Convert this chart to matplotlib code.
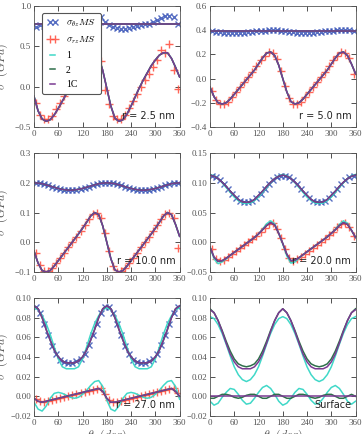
import matplotlib
matplotlib.use("Agg")
import matplotlib.pyplot as plt

plt.rcParams["font.family"] = ["Liberation Serif", "DejaVu Serif"]
plt.rcParams["mathtext.fontset"] = "cm"
plt.rcParams["axes.unicode_minus"] = True

# angles (deg)
theta_line = list(range(0, 361, 10))
theta_ms = list(range(5, 360, 10))

# r = 2.5 nm
p1_tz_ms = [0.74, 0.76, 0.75, 0.74, 0.73, 0.73, 0.74, 0.75, 0.76, 0.77,
            0.78, 0.79, 0.80, 0.82, 0.85, 0.87, 0.86, 0.80, 0.76, 0.74,
            0.73, 0.72, 0.72, 0.73, 0.74, 0.75, 0.76, 0.77, 0.78, 0.80,
            0.82, 0.85, 0.88, 0.87, 0.86, 0.78]
p1_tz_line = [0.78] * 37
p1_rz_ms = [-0.20, -0.35, -0.40, -0.40, -0.36, -0.28, -0.20, -0.11, -0.03, 0.05,
            0.13, 0.21, 0.28, 0.36, 0.42, 0.45, 0.32, -0.04, -0.22, -0.36,
            -0.40, -0.40, -0.35, -0.27, -0.18, -0.09, 0.00, 0.08, 0.16, 0.24,
            0.33, 0.45, 0.42, 0.53, 0.20, -0.03]
p1_rz_line = [-0.12, -0.30, -0.40, -0.43, -0.41, -0.35, -0.27, -0.18, -0.09, 0.00,
              0.08, 0.16, 0.24, 0.31, 0.38, 0.42, 0.37, 0.20, -0.02, -0.24,
              -0.39, -0.43, -0.41, -0.34, -0.24, -0.13, -0.02, 0.08, 0.17, 0.26,
              0.33, 0.39, 0.42, 0.42, 0.35, 0.24, 0.12]

# r = 5.0 nm
p2_tz_ms = [0.39, 0.385, 0.385, 0.38, 0.38, 0.38, 0.38, 0.38, 0.38, 0.385,
            0.385, 0.39, 0.39, 0.395, 0.40, 0.405, 0.40, 0.395, 0.39, 0.385,
            0.385, 0.38, 0.38, 0.38, 0.38, 0.38, 0.385, 0.385, 0.39, 0.39,
            0.395, 0.40, 0.405, 0.405, 0.40, 0.395]
p2_tz_line = [0.39] * 37
p2_rz_ms = [-0.10, -0.18, -0.21, -0.21, -0.19, -0.15, -0.11, -0.07, -0.03, 0.01,
            0.05, 0.10, 0.15, 0.19, 0.22, 0.21, 0.16, 0.06, -0.06, -0.16,
            -0.21, -0.21, -0.19, -0.15, -0.11, -0.07, -0.03, 0.01, 0.05, 0.10,
            0.15, 0.19, 0.22, 0.21, 0.17, 0.04]
p2_rz_line = [-0.07, -0.15, -0.20, -0.21, -0.20, -0.17, -0.13, -0.09, -0.05, -0.01,
              0.03, 0.07, 0.12, 0.17, 0.21, 0.22, 0.19, 0.11, 0.00, -0.11,
              -0.19, -0.21, -0.20, -0.17, -0.13, -0.09, -0.05, -0.01, 0.03, 0.07,
              0.12, 0.17, 0.21, 0.22, 0.19, 0.12, 0.04]

# r = 10.0 nm
p3_tz_ms = [0.200, 0.198, 0.195, 0.191, 0.187, 0.183, 0.179, 0.176, 0.175, 0.175,
            0.176, 0.179, 0.183, 0.187, 0.191, 0.195, 0.198, 0.200, 0.200, 0.198,
            0.195, 0.191, 0.187, 0.183, 0.179, 0.176, 0.175, 0.175, 0.176, 0.179,
            0.183, 0.187, 0.191, 0.195, 0.198, 0.200]
p3_tz_line = [0.200, 0.199, 0.197, 0.193, 0.189, 0.185, 0.181, 0.178, 0.176, 0.175,
              0.176, 0.178, 0.181, 0.185, 0.189, 0.193, 0.197, 0.199, 0.200, 0.199,
              0.197, 0.193, 0.189, 0.185, 0.181, 0.178, 0.176, 0.175, 0.176, 0.178,
              0.181, 0.185, 0.189, 0.193, 0.197, 0.199, 0.200]
p3_rz_ms = [-0.035, -0.075, -0.098, -0.098, -0.088, -0.071, -0.053, -0.035, -0.017, 0.001,
            0.019, 0.038, 0.057, 0.078, 0.096, 0.099, 0.080, 0.030, -0.030, -0.080,
            -0.099, -0.098, -0.088, -0.071, -0.053, -0.035, -0.017, 0.001, 0.019, 0.038,
            0.057, 0.078, 0.096, 0.099, 0.080, -0.020]
p3_rz_line = [-0.030, -0.070, -0.095, -0.100, -0.095, -0.080, -0.062, -0.044, -0.026, -0.008,
              0.010, 0.028, 0.047, 0.067, 0.088, 0.100, 0.093, 0.055, 0.000, -0.055,
              -0.093, -0.100, -0.095, -0.080, -0.062, -0.044, -0.026, -0.008, 0.010, 0.028,
              0.047, 0.067, 0.088, 0.100, 0.093, 0.060, 0.020]

# r = 20.0 nm
p4_tz_ms = [0.112, 0.110, 0.105, 0.098, 0.090, 0.082, 0.075, 0.070, 0.067, 0.067,
            0.070, 0.075, 0.082, 0.090, 0.098, 0.105, 0.110, 0.112, 0.112, 0.110,
            0.105, 0.098, 0.090, 0.082, 0.075, 0.070, 0.067, 0.067, 0.070, 0.075,
            0.082, 0.090, 0.098, 0.105, 0.110, 0.112]
p4_tz_line = [0.113, 0.111, 0.107, 0.101, 0.094, 0.086, 0.079, 0.072, 0.068, 0.067,
              0.068, 0.072, 0.079, 0.086, 0.094, 0.101, 0.107, 0.111, 0.113, 0.111,
              0.107, 0.101, 0.094, 0.086, 0.079, 0.072, 0.068, 0.067, 0.068, 0.072,
              0.079, 0.086, 0.094, 0.101, 0.107, 0.111, 0.113]
p4_tz_line1 = [0.114, 0.112, 0.107, 0.100, 0.092, 0.084, 0.076, 0.070, 0.066, 0.065,
               0.066, 0.070, 0.076, 0.084, 0.092, 0.100, 0.107, 0.112, 0.114, 0.112,
               0.107, 0.100, 0.092, 0.084, 0.076, 0.070, 0.066, 0.065, 0.066, 0.070,
               0.076, 0.084, 0.092, 0.100, 0.107, 0.112, 0.114]
p4_rz_ms = [-0.012, -0.028, -0.031, -0.029, -0.025, -0.020, -0.015, -0.010, -0.005, 0.000,
            0.005, 0.011, 0.017, 0.024, 0.031, 0.032, 0.023, 0.008, -0.011, -0.026,
            -0.031, -0.028, -0.024, -0.019, -0.014, -0.009, -0.004, 0.001, 0.006, 0.012,
            0.018, 0.025, 0.031, 0.032, 0.025, 0.010]
p4_rz_line = [-0.008, -0.025, -0.032, -0.031, -0.027, -0.022, -0.017, -0.012, -0.007, -0.002,
              0.003, 0.008, 0.014, 0.021, 0.028, 0.033, 0.029, 0.015, -0.002, -0.020,
              -0.031, -0.030, -0.026, -0.021, -0.016, -0.011, -0.006, -0.001, 0.004, 0.009,
              0.015, 0.021, 0.028, 0.033, 0.030, 0.020, 0.008]
p4_rz_line1 = [-0.008, -0.028, -0.036, -0.033, -0.028, -0.022, -0.017, -0.012, -0.007, -0.002,
               0.003, 0.008, 0.014, 0.022, 0.031, 0.036, 0.031, 0.015, -0.003, -0.023,
               -0.035, -0.033, -0.027, -0.021, -0.016, -0.011, -0.006, -0.001, 0.004, 0.009,
               0.015, 0.022, 0.030, 0.036, 0.032, 0.020, 0.008]

# r = 27.0 nm
p5_tz_ms = [0.091, 0.085, 0.074, 0.062, 0.051, 0.043, 0.037, 0.035, 0.034, 0.034,
            0.036, 0.038, 0.043, 0.052, 0.062, 0.074, 0.085, 0.091, 0.091, 0.085,
            0.074, 0.062, 0.051, 0.043, 0.037, 0.035, 0.034, 0.034, 0.036, 0.038,
            0.043, 0.052, 0.062, 0.074, 0.085, 0.091]
p5_tz_line = [0.092, 0.089, 0.080, 0.068, 0.057, 0.047, 0.040, 0.036, 0.034, 0.034,
              0.034, 0.036, 0.040, 0.047, 0.057, 0.068, 0.080, 0.089, 0.092, 0.089,
              0.080, 0.068, 0.057, 0.047, 0.040, 0.036, 0.034, 0.034, 0.034, 0.036,
              0.040, 0.047, 0.057, 0.068, 0.080, 0.089, 0.092]
p5_tz_line1 = [0.090, 0.088, 0.082, 0.074, 0.063, 0.050, 0.038, 0.030, 0.028, 0.028,
               0.028, 0.030, 0.038, 0.050, 0.063, 0.074, 0.082, 0.088, 0.090, 0.088,
               0.082, 0.074, 0.063, 0.050, 0.038, 0.030, 0.028, 0.028, 0.028, 0.030,
               0.038, 0.050, 0.063, 0.074, 0.082, 0.088, 0.090]
p5_rz_ms = [-0.003, -0.005, -0.006, -0.005, -0.004, -0.003, -0.002, -0.001, 0.000, 0.001,
            0.002, 0.003, 0.004, 0.005, 0.006, 0.007, 0.008, 0.002, -0.004, -0.006,
            -0.006, -0.005, -0.004, -0.003, -0.002, -0.001, 0.000, 0.001, 0.002, 0.003,
            0.004, 0.005, 0.006, 0.007, 0.008, 0.003]
p5_rz_line = [-0.002, -0.005, -0.006, -0.005, -0.004, -0.003, -0.002, -0.001, 0.000, 0.001,
              0.002, 0.003, 0.004, 0.005, 0.006, 0.007, 0.008, 0.005, -0.002, -0.006,
              -0.006, -0.005, -0.004, -0.003, -0.002, -0.001, 0.000, 0.001, 0.002, 0.003,
              0.004, 0.005, 0.006, 0.007, 0.008, 0.005, 0.000]
p5_rz_line1 = [-0.006, -0.013, -0.015, -0.010, -0.002, 0.003, 0.004, 0.003, 0.001, -0.001,
               -0.002, -0.001, 0.002, 0.006, 0.011, 0.015, 0.016, 0.010, -0.004, -0.013,
               -0.015, -0.010, -0.002, 0.003, 0.004, 0.003, 0.001, -0.001, -0.002, -0.001,
               0.002, 0.006, 0.011, 0.015, 0.016, 0.010, -0.003]

# surface
p6_top_line1 = [0.081, 0.079, 0.073, 0.064, 0.053, 0.041, 0.030, 0.022, 0.017, 0.015,
                0.017, 0.022, 0.030, 0.041, 0.053, 0.064, 0.073, 0.079, 0.081, 0.079,
                0.073, 0.064, 0.053, 0.041, 0.030, 0.022, 0.017, 0.015, 0.017, 0.022,
                0.030, 0.041, 0.053, 0.064, 0.073, 0.079, 0.081]
p6_top_line2 = [0.089, 0.085, 0.077, 0.067, 0.056, 0.046, 0.038, 0.033, 0.031, 0.030,
                0.031, 0.033, 0.038, 0.046, 0.056, 0.067, 0.077, 0.085, 0.089, 0.085,
                0.077, 0.067, 0.056, 0.046, 0.038, 0.033, 0.031, 0.030, 0.031, 0.033,
                0.038, 0.046, 0.056, 0.067, 0.077, 0.085, 0.089]
p6_top_line1c = [0.088, 0.085, 0.077, 0.066, 0.054, 0.043, 0.035, 0.030, 0.028, 0.028,
                 0.028, 0.030, 0.035, 0.043, 0.054, 0.066, 0.077, 0.085, 0.089, 0.085,
                 0.077, 0.066, 0.054, 0.043, 0.035, 0.030, 0.028, 0.028, 0.028, 0.030,
                 0.035, 0.043, 0.054, 0.066, 0.077, 0.085, 0.088]
p6_bot_line1 = [-0.005, -0.009, -0.007, -0.001, 0.004, 0.008, 0.007, 0.002, -0.004, -0.008,
                -0.007, -0.002, 0.004, 0.009, 0.011, 0.008, 0.002, -0.005, -0.009, -0.007,
                -0.002, 0.004, 0.008, 0.007, 0.002, -0.004, -0.008, -0.007, -0.002, 0.004,
                0.009, 0.011, 0.008, 0.002, -0.005, -0.008, -0.005]
p6_bot_line2 = [-0.002, -0.002, 0.000, 0.002, 0.002, 0.001, -0.001, -0.002, -0.001, 0.001,
                0.002, 0.002, 0.000, -0.002, -0.002, 0.000, 0.002, 0.002, 0.000, -0.002,
                -0.002, 0.000, 0.002, 0.002, 0.001, -0.001, -0.002, -0.001, 0.001, 0.002,
                0.002, 0.000, -0.002, -0.002, 0.000, 0.002, 0.000]
p6_bot_line1c = [0.0] * 37

radii = ["r = 2.5 nm", "r = 5.0 nm", "r = 10.0 nm", "r = 20.0 nm", "r = 27.0 nm", "Surface"]
ylims = [(-0.5, 1.0), (-0.4, 0.6), (-0.1, 0.3), (-0.05, 0.15), (-0.02, 0.10), (-0.02, 0.10)]
ystep = [0.5, 0.2, 0.1, 0.05, 0.02, 0.02]
ydec = [1, 1, 1, 2, 2, 2]

C_TZ = "#3a55b8"
C_RZ = "#ff4a3a"
C_1 = "#40d8c8"
C_2 = "#2e6e4a"
C_1C = "#7a3a92"

panels = [
    dict(tz_ms=p1_tz_ms, rz_ms=p1_rz_ms,
         lines=[(p1_tz_line, p1_tz_line, p1_tz_line), (p1_rz_line, p1_rz_line, p1_rz_line)]),
    dict(tz_ms=p2_tz_ms, rz_ms=p2_rz_ms,
         lines=[(p2_tz_line, p2_tz_line, p2_tz_line), (p2_rz_line, p2_rz_line, p2_rz_line)]),
    dict(tz_ms=p3_tz_ms, rz_ms=p3_rz_ms,
         lines=[(p3_tz_line, p3_tz_line, p3_tz_line), (p3_rz_line, p3_rz_line, p3_rz_line)]),
    dict(tz_ms=p4_tz_ms, rz_ms=p4_rz_ms,
         lines=[(p4_tz_line1, p4_tz_line, p4_tz_line), (p4_rz_line1, p4_rz_line, p4_rz_line)]),
    dict(tz_ms=p5_tz_ms, rz_ms=p5_rz_ms,
         lines=[(p5_tz_line1, p5_tz_line, p5_tz_line), (p5_rz_line1, p5_rz_line, p5_rz_line)]),
    dict(tz_ms=None, rz_ms=None,
         lines=[(p6_top_line1, p6_top_line2, p6_top_line1c), (p6_bot_line1, p6_bot_line2, p6_bot_line1c)]),
]

fig = plt.figure(figsize=(3.63, 4.34), dpi=100)
lefts = [0.0937, 0.5785]
bottoms = [0.7074, 0.3733, 0.0415]
heights = [0.279, 0.274, 0.272]
width = 0.401

for i, p in enumerate(panels):
    row, col = divmod(i, 2)
    ax = fig.add_axes([lefts[col], bottoms[row], width, heights[row]])
    if p["tz_ms"] is not None:
        ax.plot(theta_ms, p["tz_ms"], "x", color=C_TZ, ms=4.5, mew=1.0, alpha=0.85,
                label=r"$\sigma_{\theta z} MS$")
        ax.plot(theta_ms, p["rz_ms"], "+", color=C_RZ, ms=5.5, mew=1.0, alpha=0.85,
                label=r"$\sigma_{rz} MS$")
    for k, (l1, l2, l1c) in enumerate(p["lines"]):
        ax.plot(theta_line, l1, color=C_1, lw=1.1, label="1" if k == 0 else None)
        ax.plot(theta_line, l2, color=C_2, lw=1.1, label="2" if k == 0 else None)
        ax.plot(theta_line, l1c, color=C_1C, lw=1.1, label="1C" if k == 0 else None)
    lo, hi = ylims[i]
    ax.set_xlim(0, 360)
    ax.set_ylim(lo, hi)
    ax.set_xticks(range(0, 361, 60))
    n = int(round((hi - lo) / ystep[i]))
    yt = [lo + j * ystep[i] for j in range(n + 1)]
    ax.set_yticks(yt)
    ax.set_yticklabels([f"{v:.{ydec[i]}f}".replace("-", "\u2212") if abs(v) > 1e-9
                        else f"{0:.{ydec[i]}f}" for v in yt])
    ax.tick_params(direction="in", top=True, right=True, labelsize=6.5, length=3.5,
                   width=0.6, pad=2, colors="#333333", labelcolor="#555555")
    for s in ax.spines.values():
        s.set_linewidth(0.6)
        s.set_color("#555555")
    ax.text(0.97, 0.05, radii[i], transform=ax.transAxes, ha="right", va="bottom",
            fontsize=7, family="DejaVu Sans", color="#222222")
    if col == 0:
        ax.set_ylabel(r"$\sigma\ \ (GPa)$", fontsize=8.5, color="#555555")
        ax.yaxis.set_label_coords(-0.165, 0.5)
    if row == 2:
        ax.set_xlabel(r"$\theta\ \ (deg)$", fontsize=8.5, labelpad=1, color="#555555")
    if i == 0:
        leg = ax.legend(loc="upper left", bbox_to_anchor=(0.02, 0.985), fontsize=7,
                        numpoints=2, handlelength=1.2, labelspacing=0.55,
                        borderpad=0.5, fancybox=True, framealpha=1.0)
        leg.get_frame().set_edgecolor("#555555")
        leg.get_frame().set_linewidth(0.8)

fig.savefig("out.png", dpi=100)
